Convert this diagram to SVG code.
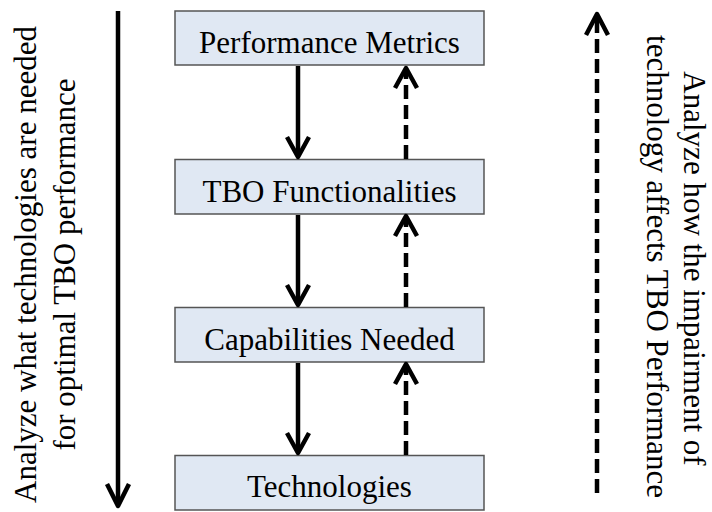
<svg xmlns="http://www.w3.org/2000/svg" width="712" height="512" viewBox="0 0 712 512">
<style>
.box{fill:#e0e8f3;stroke:#555;stroke-width:1.5}
.t{font-family:'Liberation Serif','Times New Roman',serif;font-size:31px;fill:#000}
.c{text-anchor:middle}
.ln{stroke:#000;stroke-width:4.5;fill:none;stroke-linejoin:round}
.d{stroke-dasharray:14 6}
</style>
<rect width="712" height="512" fill="#fff"/>
<g id="n1"><rect class="box" x="175" y="11" width="309" height="54"/><text class="t c" x="329.5" y="53">Performance Metrics</text></g>
<g id="n2"><rect class="box" x="175" y="159.5" width="309" height="54.5"/><text class="t c" x="329.5" y="202">TBO Functionalities</text></g>
<g id="n3"><rect class="box" x="175" y="307.5" width="309" height="54.5"/><text class="t c" x="329.5" y="350">Capabilities Needed</text></g>
<g id="n4"><rect class="box" x="175" y="455.5" width="309" height="54.5"/><text class="t c" x="329.5" y="497">Technologies</text></g>
<g id="connectors">
<line class="ln" x1="298" y1="66" x2="298" y2="156"/><polyline class="ln" points="287,137 298,157 309,137"/>
<line class="ln" x1="298" y1="215" x2="298" y2="304"/><polyline class="ln" points="287,285 298,305 309,285"/>
<line class="ln" x1="298" y1="363" x2="298" y2="452"/><polyline class="ln" points="287,433 298,453 309,433"/>
<line class="ln d" x1="406" y1="159" x2="406" y2="69"/><polyline class="ln" points="395,88 406,68 417,88"/>
<line class="ln d" x1="406" y1="307" x2="406" y2="217"/><polyline class="ln" points="395,236 406,216 417,236"/>
<line class="ln d" x1="406" y1="455" x2="406" y2="365"/><polyline class="ln" points="395,384 406,364 417,384"/>
<line class="ln" x1="118" y1="11" x2="118" y2="505"/><polyline class="ln" points="107,484 118,506 129,484"/>
<line class="ln d" x1="597" y1="493" x2="597" y2="16"/><polyline class="ln" points="586,35 597,14 608,35"/>
</g>
<g id="left-label">
<text class="t c" transform="translate(36,264.5) rotate(-90)">Analyze what technologies are needed</text>
<text class="t c" transform="translate(75,264.5) rotate(-90)">for optimal TBO performance</text>
</g>
<g id="right-label">
<text class="t c" transform="translate(684,268.5) rotate(90)">Analyze how the impairment of</text>
<text class="t c" transform="translate(647,266.5) rotate(90)">technology affects TBO Performance</text>
</g>
</svg>
